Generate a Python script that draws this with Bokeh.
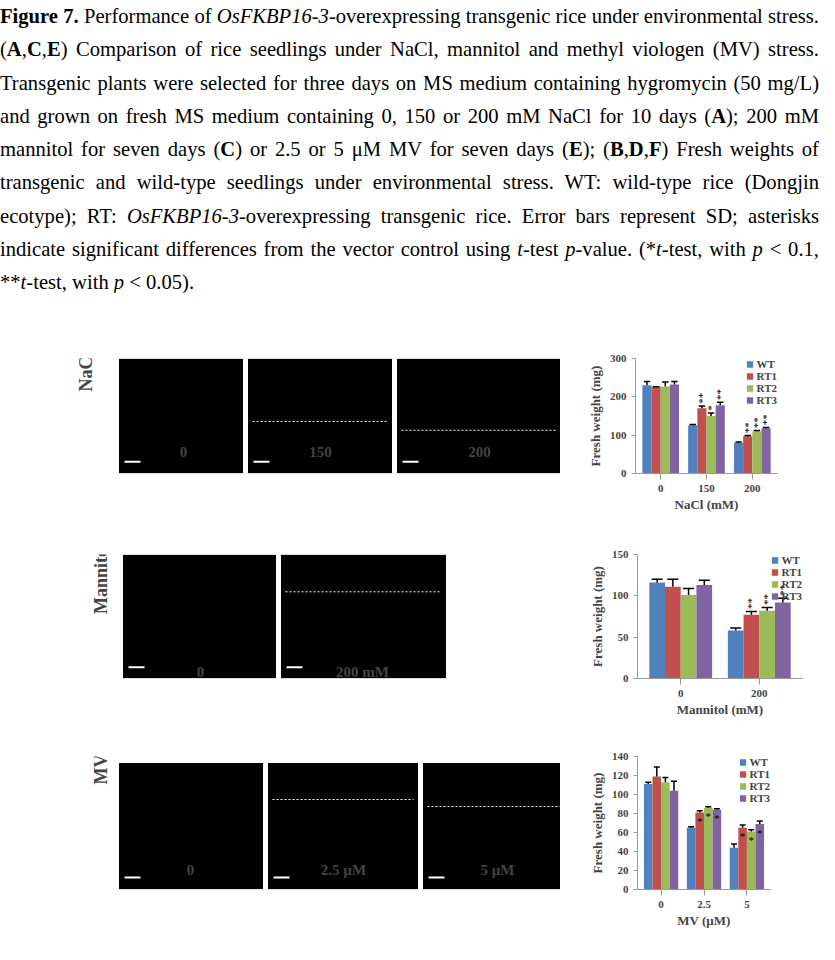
from bokeh.plotting import figure
from bokeh.models import Div, Range1d, Label, Legend, LegendItem, FixedTicker
from bokeh.layouts import column, row
from bokeh.embed import file_html
from bokeh.resources import INLINE
from bokeh.core.properties import value
import math

series = ["WT", "RT1", "RT2", "RT3"]
colors = ["#4F81BD", "#C0504D", "#9BBB59", "#8064A2"]

nacl_groups = ["0", "150", "200"]
nacl_vals = [[230, 126, 80], [226, 170, 97], [227, 150, 110], [232, 178, 118]]
nacl_err = [[10, 2, 2], [0, 6, 2], [12, 8, 2], [8, 8, 2]]
nacl_star = [["", "", ""], ["", "**", "**"], ["", "*", "**"], ["", "**", "**"]]

man_groups = ["0", "200"]
man_vals = [[116, 58], [111, 77], [101, 82], [113, 92]]
man_err = [[4, 3], [9, 4], [8, 4], [6, 5]]
man_star = [["", ""], ["", "**"], ["", "**"], ["", "**"]]

mv_groups = ["0", "2.5", "5"]
mv_vals = [[111, 65, 44], [119, 81, 65], [113, 86, 61], [104, 84, 69]]
mv_err = [[2, 1, 4], [10, 2, 3], [5, 1, 2], [10, 1, 3]]
mv_star = [["", "", ""], ["", "*", "*"], ["", "*", "*"], ["", "*", "*"]]

SERIF = "Liberation Serif"

caption = ("<b>Figure 7.</b> Performance of <i>OsFKBP16-3</i>-overexpressing transgenic rice under environmental "
           "stress. (<b>A</b>,<b>C</b>,<b>E</b>) Comparison of rice seedlings under NaCl, mannitol and methyl viologen (MV) "
           "stress. Transgenic plants were selected for three days on MS medium containing "
           "hygromycin (50 mg/L) and grown on fresh MS medium containing 0, 150 or 200 mM "
           "NaCl for 10 days (<b>A</b>); 200 mM mannitol for seven days (<b>C</b>) or 2.5 or 5 &mu;M MV for seven "
           "days (<b>E</b>); (<b>B</b>,<b>D</b>,<b>F</b>) Fresh weights of transgenic and wild-type seedlings under environmental "
           "stress. WT: wild-type rice (Dongjin ecotype); RT: <i>OsFKBP16-3</i>-overexpressing transgenic "
           "rice. Error bars represent SD; asterisks indicate significant differences from the vector "
           "control using <i>t</i>-test <i>p</i>-value. (*<i>t</i>-test, with <i>p</i> &lt; 0.1, **<i>t</i>-test, with <i>p</i> &lt; 0.05).")

div = Div(text=caption, width=819, height=292, margin=(0, 0, 0, 0),
          styles={"font-family": SERIF, "font-size": "20.6px", "line-height": "33.3px",
                  "text-align": "justify", "color": "#000"})


def lab(p, h, x, y, t, size="15px", angle=0, align="center", base="middle"):
    p.add_layout(Label(x=x, y=h - y, x_units="screen", y_units="screen", text=t, angle=angle,
                       text_font=SERIF, text_font_style="bold", text_font_size=size,
                       text_align=align, text_baseline=base))


def photo_panel(h, top, bottom, letter, lp, rects, cond, cp, cond_labels, dash_ys):
    p = figure(width=560, height=h, x_range=Range1d(0, 560), y_range=Range1d(h - bottom, top),
               output_backend="svg", toolbar_location=None, x_axis_location=None, y_axis_location=None,
               min_border_left=0, min_border_right=0, min_border_top=top, min_border_bottom=bottom)
    p.grid.visible = False
    p.outline_line_color = None
    lab(p, h, lp[0], lp[1], letter, size="22px")
    for (x0, x1, y0, y1), dy in zip(rects, dash_ys):
        p.quad(left=[x0], right=[x1], top=[max(y0, top)], bottom=[min(y1, h - bottom)],
               fill_color="black", line_color="white")
        w = x1 - x0
        for i, t in enumerate(["WT", "RT1", "RT2", "RT3"]):
            lab(p, h, x0 + w * (0.1 + 0.22 * i), y0 - 6, t, angle=math.radians(35), align="left")
        if dy is not None:
            p.segment([x0 + 5], [dy], [x1 - 5], [dy], line_color="white", line_dash="2 2", line_width=1)
        p.segment([x0 + 6], [min(y1, h - bottom) - 12], [x0 + 22], [min(y1, h - bottom) - 12],
                  line_color="white", line_width=2)
    lab(p, h, cp[0], cp[1], cond, size="18px", angle=math.pi / 2)
    for (x, y, t) in cond_labels:
        lab(p, h, x, y, t)
    return p


def bar_chart(h, letter, groups, vals, errs, stars, ymax, ticks, xlabel, left, right, top, bottom, star_inside=False):
    n = len(groups)
    p = figure(width=259, height=h, x_range=Range1d(-0.55, n - 0.45), y_range=Range1d(0, ymax),
               output_backend="svg", toolbar_location=None, min_border_left=left, min_border_right=right,
               min_border_top=top, min_border_bottom=bottom)
    p.grid.visible = False
    p.outline_line_color = None
    bw = 0.2
    items = []
    for si in range(4):
        xs = [g + (si - 1.5) * bw for g in range(n)]
        r = p.vbar(x=xs, top=vals[si], width=bw, fill_color=colors[si], line_color=None)
        items.append(LegendItem(label=series[si], renderers=[r]))
        tops = [v + e for v, e in zip(vals[si], errs[si])]
        p.segment(xs, vals[si], xs, tops, line_color="black", line_width=1.5)
        p.segment([x - bw * 0.35 for x in xs], tops, [x + bw * 0.35 for x in xs], tops, line_color="black", line_width=1.5)
        for x, v, t, s in zip(xs, vals[si], tops, stars[si]):
            if s:
                if star_inside:
                    p.text([x], [v - ymax * 0.02], [s], text_font=value(SERIF), text_font_size="11px",
                           text_align="center", text_baseline="top")
                else:
                    p.text([x], [t + ymax * 0.02], [s], angle=math.pi / 2, text_font=value(SERIF),
                           text_font_size="11px", text_align="left", text_baseline="middle")
    leg = Legend(items=items, location="top_right", label_text_font=SERIF, label_text_font_style="bold",
                 label_text_font_size="11px", glyph_width=8, glyph_height=8, label_height=8,
                 spacing=0, padding=0, margin=0, border_line_color=None, background_fill_alpha=0,
                 label_standoff=3)
    p.add_layout(leg)
    p.xaxis.ticker = FixedTicker(ticks=list(range(n)))
    p.xaxis.major_label_overrides = {i: g for i, g in enumerate(groups)}
    p.yaxis.ticker = FixedTicker(ticks=ticks)
    for ax in (p.xaxis, p.yaxis):
        ax.axis_line_color = "#999999"
        ax.major_tick_line_color = "#999999"
        ax.minor_tick_line_color = None
        ax.major_label_text_font = SERIF
        ax.major_label_text_font_style = "bold"
        ax.major_label_text_font_size = "11px"
        ax.axis_label_text_font = SERIF
        ax.axis_label_text_font_style = "bold"
        ax.axis_label_text_font_size = "13px"
    p.xaxis.major_tick_in = 0
    p.yaxis.major_tick_out = 4
    p.yaxis.major_tick_in = 0
    p.xaxis.axis_label = xlabel
    p.xaxis.axis_label_standoff = 2
    p.yaxis.axis_label = "Fresh weight (mg)"
    p.yaxis.axis_label_standoff = 4
    p.add_layout(Label(x=23, y=h - 16, x_units="screen", y_units="screen", text=letter,
                       text_font=SERIF, text_font_style="bold", text_font_size="22px",
                       text_baseline="middle", text_align="center"))
    return p


pa = photo_panel(222, 66, 39, "A", (52, 12), [(118, 243, 60, 185), (247, 392, 60, 185), (396, 562, 60, 185)],
                 "NaCl", (85, 120), [(183, 200, "0"), (320, 200, "150"), (479, 200, "200")],
                 [None, 130, 139])
pb = bar_chart(222, "B", nacl_groups, nacl_vals, nacl_err, nacl_star, 300, [0, 100, 200, 300],
               "NaCl (mM)", 75, 42, 66, 39)
pc = photo_panel(205, 40, 32, "C", (62, 15), [(122, 276, 40, 175), (280, 446, 40, 175)],
                 "Mannitol", (100, 105), [(200, 198, "0"), (362, 198, "200 mM")], [None, 80])
pd = bar_chart(205, "D", man_groups, man_vals, man_err, man_star, 150, [0, 50, 100, 150],
               "Mannitol (mM)", 77, 17, 40, 32)
pe = photo_panel(215, 37, 45, "E", (62, 17), [(118, 263, 43, 170), (267, 418, 43, 170), (422, 568, 43, 170)],
                 "MV", (100, 95), [(190, 195, "0"), (343, 195, "2.5 \u00b5M"), (497, 195, "5 \u00b5M")],
                 [None, 80, 87])
pf = bar_chart(215, "F", mv_groups, mv_vals, mv_err, mv_star, 140, [0, 20, 40, 60, 80, 100, 120, 140],
               "MV (\u00b5M)", 77, 49, 37, 45, star_inside=True)

layout = column(div, row(pa, pb), row(pc, pd), row(pe, pf))
open("out.html", "w").write(file_html(layout, INLINE))
